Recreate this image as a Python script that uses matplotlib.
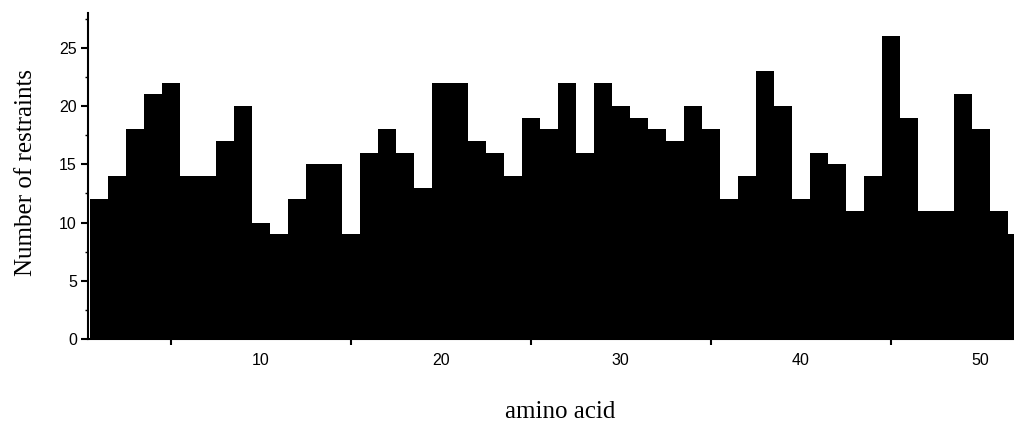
import numpy as np
import matplotlib
matplotlib.use("Agg")
import matplotlib.pyplot as plt
from matplotlib.ticker import MultipleLocator

# number of restraints per residue
residues = np.arange(1, 53)
counts = [12, 14, 18, 21, 22, 14, 14, 17, 20, 10,
          9, 12, 15, 15, 9, 16, 18, 16, 13, 22,
          22, 17, 16, 14, 19, 18, 22, 16, 22, 20,
          19, 18, 17, 20, 18, 12, 14, 23, 20, 12,
          16, 15, 11, 14, 26, 19, 11, 11, 21, 18,
          11, 9]

W, H = 1014, 423
fig = plt.figure(figsize=(W / 100, H / 100), dpi=100)
ax = fig.add_axes([88 / W, (H - 339) / H, (W - 88) / W, (339 - 13) / H])

ax.bar(residues, counts, width=1.0, color="black", linewidth=0)

ax.set_xlim(0.4, 51.85)
ax.set_ylim(0, 28)

for s in ("top", "right"):
    ax.spines[s].set_visible(False)
for s in ("left", "bottom"):
    ax.spines[s].set_linewidth(1.5)

ax.xaxis.set_major_locator(MultipleLocator(10))
ax.xaxis.set_minor_locator(MultipleLocator(5))
ax.yaxis.set_major_locator(MultipleLocator(5))
ax.yaxis.set_minor_locator(MultipleLocator(2.5))

tick_font = "Liberation Sans"
ax.tick_params(axis="x", which="major", direction="in", length=4,
               width=1.5, pad=10, labelsize=11.5)
ax.tick_params(axis="x", which="minor", direction="out", length=4, width=1.5)
ax.tick_params(axis="y", which="major", direction="out", length=5,
               width=1.5, pad=3, labelsize=11.5)
ax.tick_params(axis="y", which="minor", direction="out", length=2, width=1)
for lab in ax.get_xticklabels() + ax.get_yticklabels():
    lab.set_fontfamily(tick_font)

ax.set_xlabel("amino acid", fontsize=18, fontfamily="Liberation Serif")
ax.set_ylabel("Number of restraints", fontsize=18, fontfamily="Liberation Serif")
ax.xaxis.set_label_coords((560 - 88) / (W - 88), (339 - 412) / (339 - 13))
ax.xaxis.label.set_va("center")
ax.yaxis.set_label_coords((26 - 88) / (W - 88), (339 - 172) / (339 - 13))
ax.yaxis.label.set_va("center")

fig.savefig("out.png", dpi=100)
